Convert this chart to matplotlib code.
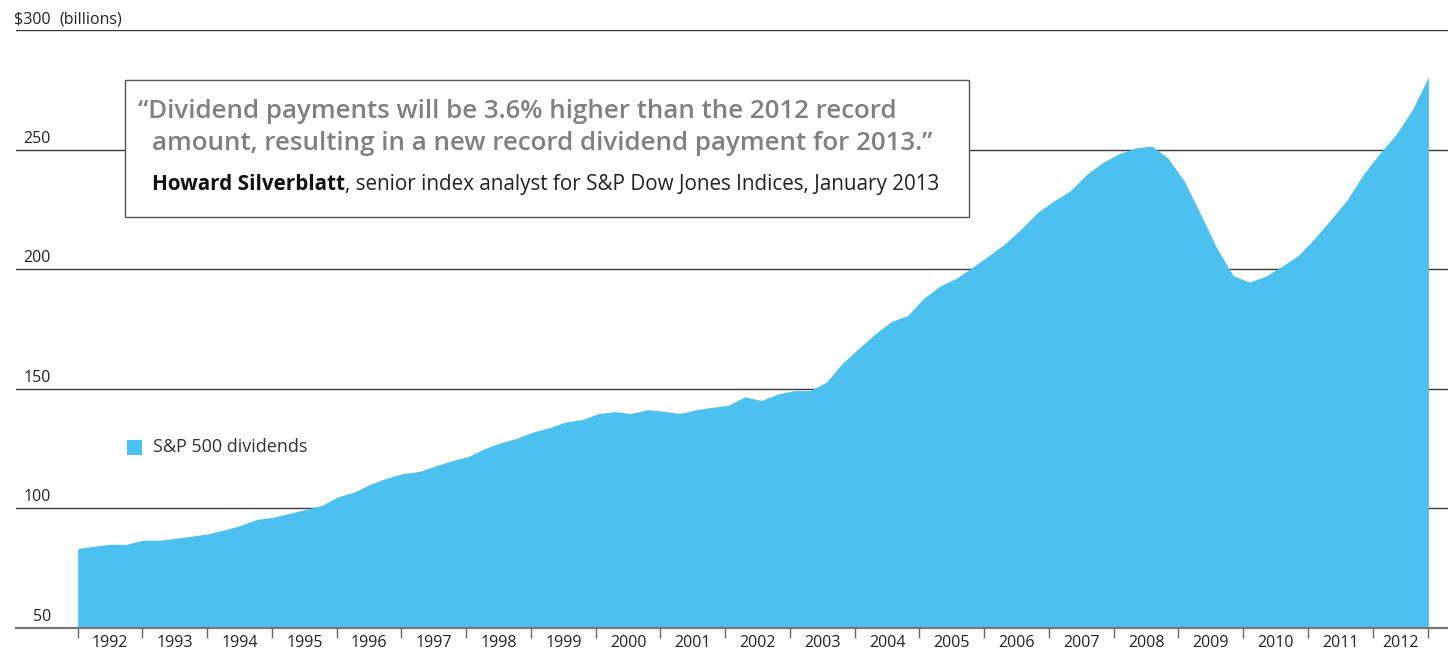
import numpy as np
import matplotlib
matplotlib.use("Agg")
import matplotlib.pyplot as plt
from matplotlib.transforms import blended_transform_factory, ScaledTranslation
from matplotlib.patches import Rectangle

# ---- data (S&P 500 dividends, $ billions, quarterly 1992 Q1 - 2012 Q4) ----
years = list(range(1992, 2013))
dividends = [
    83.2, 84.2, 85.0, 85.0,      # 1992
    86.7, 86.7, 87.5, 88.4,      # 1993
    89.4, 91.0, 92.9, 95.4,      # 1994
    96.3, 97.9, 99.6, 101.3,     # 1995
    104.9, 106.9, 110.2, 112.7,  # 1996
    114.6, 115.5, 117.8, 120.0,  # 1997
    121.7, 125.0, 127.5, 129.4,  # 1998
    132.0, 133.8, 136.2, 137.2,  # 1999
    139.7, 140.5, 139.7, 141.3,  # 2000
    140.7, 139.7, 141.3, 142.3,  # 2001
    143.2, 146.7, 145.1, 147.8,  # 2002
    149.3, 149.3, 152.8, 160.8,  # 2003
    167.0, 173.0, 178.2, 180.7,  # 2004
    188.0, 193.1, 196.3, 201.0,  # 2005
    205.8, 210.8, 217.1, 223.9,  # 2006
    228.7, 232.9, 239.7, 244.8,  # 2007
    248.4, 250.8, 251.6, 246.5,  # 2008
    236.9, 223.1, 208.9, 197.4,  # 2009
    194.7, 197.1, 201.3, 205.8,  # 2010
    212.9, 220.8, 229.0, 239.7,  # 2011
    248.4, 256.3, 266.6, 280.4,  # 2012
]
y_ticks = [50, 100, 150, 200, 250, 300]
y_labels = ["50", "100", "150", "200", "250", "$300"]
legend_label = "S&P 500 dividends"
quote_lines = ["\u201cDividend payments will be 3.6% higher than the 2012 record",
               "amount, resulting in a new record dividend payment for 2013.\u201d"]
source_bold = "Howard Silverblatt"
source_rest = ", senior index analyst for S&P Dow Jones Indices, January 2013"

W, H = 1448, 655
BLUE = "#4CC0EF"
FONT = "Open Sans"
QFONT = "Open Sans"

fig = plt.figure(figsize=(W / 100, H / 100), dpi=100)
fig.patch.set_facecolor("white")

def fx(px):
    return px / W

def fy(py):
    return 1 - py / H

ax_left, ax_right, ax_top, ax_bottom = 16, 1448, 30.3, 628
ax = fig.add_axes([fx(ax_left), fy(ax_bottom), fx(ax_right - ax_left), (ax_bottom - ax_top) / H])

# x positions for quarterly points, last tick at end of data
x_end = 2012.86
x = np.linspace(years[0], x_end, len(dividends))
px_per_year = 64.75
x0 = years[0] - (77.7 - ax_left) / px_per_year
x1 = years[0] + (ax_right - 77.7) / px_per_year
ax.set_xlim(x0, x1)
ax.set_ylim(50, 300)

# gridlines (behind area)
for v in y_ticks[1:]:
    ax.axhline(v, color="#3a3a3a", lw=1.0, zorder=1)

ax.fill_between(x, 50, dividends, color=BLUE, lw=0, zorder=2)

for s in ["top", "right", "left"]:
    ax.spines[s].set_visible(False)
ax.spines["bottom"].set_color("#777777")
ax.spines["bottom"].set_linewidth(1.6)
ax.spines["bottom"].set_zorder(3)

tick_pos = years + [x_end]
ax.set_xticks(tick_pos)
ax.set_xticklabels([])
ax.tick_params(axis="x", which="major", length=7, width=1.0, color="#666666", direction="out")
mids = [(tick_pos[i] + tick_pos[i + 1]) / 2 for i in range(len(years))]
ax.set_xticks(mids, minor=True)
ax.set_xticklabels([str(y) for y in years], minor=True, fontfamily=FONT, fontsize=11.5, color="#222222")
ax.tick_params(axis="x", which="minor", length=0, pad=5)
ax.set_yticks([])

# y labels above gridlines
tr = blended_transform_factory(fig.transFigure, ax.transData) + \
    ScaledTranslation(0, 3 / 100, fig.dpi_scale_trans)
for v, lab in zip(y_ticks, y_labels):
    ax.text(fx(51), v, lab, transform=tr, ha="right", va="bottom", fontfamily=FONT,
            fontsize=11.5, color="#222222")
fig.text(fx(59), fy(30.3) + 3 / H, "(billions)", ha="left", va="bottom", fontfamily=FONT,
         fontsize=11.5, color="#222222")

# legend
fig.patches.append(Rectangle((fx(127), fy(455)), fx(15), 15 / H, transform=fig.transFigure,
                             facecolor=BLUE, edgecolor="none", zorder=5))
fig.text(fx(153), fy(447.5), legend_label, ha="left", va="center", fontfamily=FONT,
         fontsize=13, color="#333333")

# quote box
fig.patches.append(Rectangle((fx(125), fy(216.7)), fx(969.3 - 125), (216.7 - 79.7) / H,
                             transform=fig.transFigure, facecolor="white",
                             edgecolor="#555555", lw=1.0, zorder=5))
fig.text(fx(138), fy(118.5), quote_lines[0], ha="left", va="baseline", fontfamily=QFONT,
         fontweight="semibold", fontsize=18.6, color="#808080", zorder=6)
fig.text(fx(152), fy(150), quote_lines[1], ha="left", va="baseline", fontfamily=QFONT,
         fontweight="semibold", fontsize=18.6, color="#808080", zorder=6)
t1 = fig.text(fx(152), fy(190), source_bold, ha="left", va="baseline", fontfamily=QFONT,
              fontweight="bold", fontsize=14.9, color="#111111", zorder=6)
fig.canvas.draw()
bb = t1.get_window_extent()
fig.text(bb.x1 / W, fy(190), source_rest, ha="left", va="baseline", fontfamily=QFONT,
         fontsize=14.9, color="#222222", zorder=6)

fig.savefig("out.png", dpi=100, facecolor="white")
